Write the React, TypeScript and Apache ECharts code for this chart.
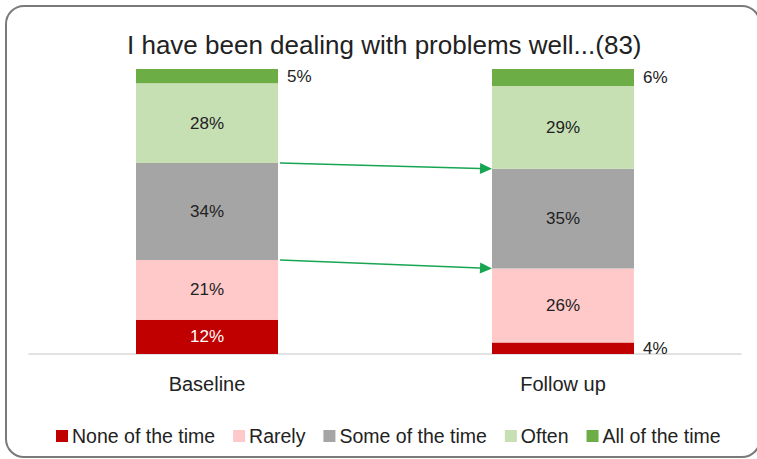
import React, { useEffect, useRef } from "react";
import * as echarts from "echarts";

// Survey responses (%), one value per time point
const categories = ["Baseline", "Follow up"];
const levels = ["None of the time", "Rarely", "Some of the time", "Often", "All of the time"];
const noneOfTheTime = [12, 4];
const rarely = [21, 26];
const someOfTheTime = [34, 35];
const often = [28, 29];
const allOfTheTime = [5, 6];
const titleText = "I have been dealing with problems well...(83)";

const levelValues = [noneOfTheTime, rarely, someOfTheTime, often, allOfTheTime];
const levelColors = ["#c00000", "#ffc9c9", "#a5a5a5", "#c6e0b4", "#6cad46"];
const labelColors = ["#ffffff", "#222222", "#222222", "#222222", "#222222"];

const FONT = "'Liberation Sans', Arial, sans-serif";
const BAR_WIDTH = 142;
const ARROW_COLOR = "#17a552";

// top of a stacked segment (cumulative share up to and including that level)
const stackTop = (levelIndex: number, catIndex: number) =>
  levelValues.slice(0, levelIndex + 1).reduce((s, arr) => s + arr[catIndex], 0);

// arrows linking the top of "Some of the time" and the top of "Rarely" across time points
const arrowLinks = [2, 1].map((lvl) => [0, stackTop(lvl, 0), 1, stackTop(lvl, 1)]);

export default function App() {
  const ref = useRef<HTMLDivElement>(null);

  useEffect(() => {
    if (!ref.current) return;
    const chart = echarts.init(ref.current, null, { renderer: "svg" });

    const barSeries = levels.map((name, li) => ({
      name,
      type: "bar",
      stack: "total",
      barWidth: BAR_WIDTH,
      itemStyle: { color: levelColors[li] },
      data: levelValues[li].map((v) =>
        v < 8
          ? {
              value: v,
              label: { position: "right", distance: 9, color: "#222222" },
            }
          : { value: v }
      ),
      label: {
        show: true,
        position: "inside",
        formatter: "{c}%",
        fontFamily: FONT,
        fontSize: 17,
        color: labelColors[li],
      },
    }));

    const arrowSeries = {
      type: "custom",
      coordinateSystem: "cartesian2d",
      z: 5,
      silent: true,
      data: arrowLinks,
      renderItem: (_params: any, api: any) => {
        const a = api.coord([api.value(0), api.value(1)]);
        const b = api.coord([api.value(2), api.value(3)]);
        const x1 = a[0] + BAR_WIDTH / 2 + 2;
        const y1 = a[1];
        const x2 = b[0] - BAR_WIDTH / 2;
        const y2 = b[1];
        const dx = x2 - x1;
        const dy = y2 - y1;
        const len = Math.sqrt(dx * dx + dy * dy);
        const ux = dx / len;
        const uy = dy / len;
        const hl = 12;
        const hw = 5.5;
        const bx = x2 - ux * hl;
        const by = y2 - uy * hl;
        return {
          type: "group",
          children: [
            {
              type: "line",
              shape: { x1, y1, x2: bx, y2: by },
              style: { stroke: ARROW_COLOR, lineWidth: 1.5 },
            },
            {
              type: "polygon",
              shape: {
                points: [
                  [x2, y2],
                  [bx - uy * hw, by + ux * hw],
                  [bx + uy * hw, by - ux * hw],
                ],
              },
              style: { fill: ARROW_COLOR },
            },
          ],
        };
      },
    };

    chart.setOption({
      animation: false,
      backgroundColor: "#ffffff",
      title: {
        text: titleText,
        left: 122,
        top: 27,
        textStyle: {
          fontFamily: FONT,
          fontSize: 26,
          fontWeight: "normal",
          color: "#222222",
        },
      },
      legend: {
        data: levels,
        left: 51,
        top: 421,
        icon: "rect",
        itemWidth: 12,
        itemHeight: 12,
        itemGap: 18,
        textStyle: { fontFamily: FONT, fontSize: 19.5, color: "#222222", padding: [0, 0, 0, -1] },
      },
      grid: { left: 29, right: 16, top: 69, bottom: 105 },
      xAxis: {
        type: "category",
        data: categories,
        axisLine: { lineStyle: { color: "#d9d9d9", width: 1.5 } },
        axisTick: { show: false },
        axisLabel: { fontFamily: FONT, fontSize: 20, color: "#222222", margin: 20 },
      },
      yAxis: {
        type: "value",
        min: 0,
        max: 100,
        show: false,
        splitLine: { show: false },
      },
      graphic: [
        {
          type: "rect",
          shape: { x: 6, y: 6, width: 754, height: 451, r: 18 },
          style: { fill: "none", stroke: "#7a7a7a", lineWidth: 2 },
          z: 10,
          silent: true,
        },
      ],
      series: [...barSeries, arrowSeries],
    });

    return () => chart.dispose();
  }, []);

  return (
    <div
      ref={ref}
      style={{ position: "fixed", left: 0, top: 0, width: 757, height: 459 }}
    />
  );
}
